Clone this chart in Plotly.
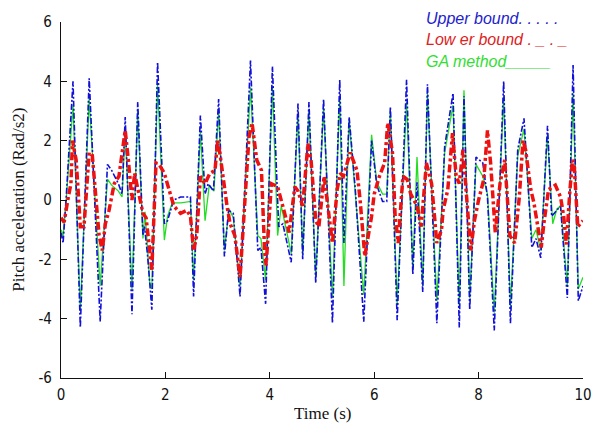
import plotly.graph_objects as go

# ---- data ----
t_upper = [0.00, 0.04, 0.10, 0.23, 0.37, 0.54, 0.75, 0.89, 0.97, 1.10, 1.17, 1.23, 1.36, 1.47, 1.57, 1.60,
           1.66, 1.74, 1.85, 1.98, 2.04, 2.16, 2.29, 2.48, 2.54, 2.67, 2.76, 2.82, 2.92, 3.02, 3.13, 3.21,
           3.30, 3.43, 3.63, 3.77, 3.83, 3.92, 4.05, 4.17, 4.25, 4.33, 4.41, 4.54, 4.63, 4.75, 4.88, 5.03,
           5.20, 5.34, 5.42, 5.52, 5.64, 5.80, 5.95, 6.05, 6.16, 6.24, 6.31, 6.44, 6.62, 6.74, 6.82, 6.93,
           7.02, 7.20, 7.35, 7.51, 7.63, 7.72, 7.83, 7.95, 8.08, 8.17, 8.30, 8.48, 8.61, 8.75, 8.87, 9.02,
           9.10, 9.19, 9.32, 9.40, 9.48, 9.57, 9.70, 9.81, 9.91, 10.0]
upper = [-1.1, -1.45, 0.1, 4.0, -4.3, 4.1, -4.1, 1.2, 1.0, 0.55, 0.2, 2.8, -3.85, 3.3, -1.2, -0.9,
         -1.9, -3.7, 4.65, -0.8, -0.7, 0.0, 0.1, 0.1, -3.25, 2.85, 0.2, 0.55, 0.3, 3.4, -1.9, -0.35,
         -0.45, -3.25, 4.7, -1.7, -1.6, -3.5, 4.5, -0.9, -0.8, -1.4, -2.1, 3.25, -2.0, 3.3, -2.8, 3.4,
         -4.15, 4.05, -1.45, 2.8, 0.3, -4.1, 2.0, 0.5, -0.05, -0.05, 3.15, -4.05, 4.05, -2.5, 0.6, -3.1,
         3.9, -4.15, 1.8, 3.6, -4.3, 3.5, -3.7, 1.45, 1.25, 0.1, -4.4, 4.0, -4.15, 1.7, 2.75, -1.6,
         -1.3, -1.95, 2.5, -0.55, -0.4, -0.2, -3.3, 4.55, -3.4, -2.9]

t_ga = [0.00, 0.04, 0.10, 0.23, 0.37, 0.54, 0.75, 0.89, 0.97, 1.10, 1.17, 1.23, 1.36, 1.47, 1.57, 1.61,
        1.70, 1.74, 1.85, 1.98, 2.04, 2.13, 2.30, 2.48, 2.54, 2.67, 2.76, 2.84, 2.93, 3.02, 3.13, 3.22,
        3.30, 3.43, 3.63, 3.77, 3.83, 3.92, 4.05, 4.15, 4.22, 4.30, 4.41, 4.54, 4.63, 4.75, 4.88, 5.03,
        5.20, 5.34, 5.42, 5.52, 5.64, 5.80, 5.95, 6.05, 6.16, 6.24, 6.31, 6.44, 6.62, 6.74, 6.82, 6.93,
        7.02, 7.20, 7.35, 7.51, 7.63, 7.72, 7.83, 7.95, 8.08, 8.17, 8.30, 8.48, 8.61, 8.75, 8.87, 9.02,
        9.10, 9.19, 9.32, 9.42, 9.50, 9.57, 9.70, 9.81, 9.91, 10.0]
ga = [-1.0, -1.2, 0.0, 3.2, -3.7, 3.4, -2.9, 0.7, 0.5, 0.3, 0.1, 2.4, -3.0, 3.0, -1.3, -0.4,
      -2.8, -3.0, 3.9, -1.35, -0.55, -0.1, -0.1, -0.05, -2.7, 2.3, -0.7, 0.5, 0.3, 3.0, -1.7, -0.3,
      -0.6, -2.9, 3.8, -1.2, -1.3, -2.7, 3.8, -1.2, -0.2, -0.9, -1.8, 2.9, -1.8, 3.0, -2.6, 3.1,
      -3.3, 3.5, -2.9, 2.7, 0.2, -3.2, 2.2, 0.6, 0.2, 0.2, 3.0, -3.5, 3.3, -2.3, 1.45, -2.9,
      3.6, -3.4, 1.6, 3.2, -3.6, 3.7, -3.3, 1.2, 0.8, 0.2, -3.8, 3.5, -3.6, 1.5, 2.4, -1.3,
      -1.0, -1.7, 2.2, -0.8, -0.3, -0.2, -2.9, 3.6, -3.0, -2.6]

t_lower = [0.00, 0.06, 0.13, 0.19, 0.22, 0.29, 0.32, 0.37, 0.44, 0.51, 0.54, 0.60, 0.66, 0.73, 0.79, 0.85,
           0.92, 1.02, 1.11, 1.20, 1.23, 1.29, 1.36, 1.41, 1.47, 1.57, 1.63, 1.70, 1.74, 1.82, 1.88, 1.98,
           2.07, 2.16, 2.29, 2.41, 2.48, 2.54, 2.60, 2.67, 2.76, 2.85, 2.95, 3.00, 3.05, 3.12, 3.18, 3.24,
           3.33, 3.43, 3.52, 3.60, 3.66, 3.75, 3.84, 3.90, 3.93, 4.03, 4.15, 4.25, 4.30, 4.37, 4.48, 4.54,
           4.63, 4.73, 4.79, 4.88, 4.94, 5.04, 5.10, 5.20, 5.29, 5.35, 5.41, 5.54, 5.67, 5.73, 5.82, 5.95,
           6.00, 6.10, 6.20, 6.26, 6.35, 6.40, 6.46, 6.55, 6.63, 6.70, 6.76, 6.82, 6.90, 7.00, 7.10, 7.20,
           7.29, 7.32, 7.41, 7.50, 7.57, 7.63, 7.70, 7.76, 7.85, 7.92, 8.00, 8.10, 8.17, 8.23, 8.32, 8.41,
           8.50, 8.60, 8.69, 8.78, 8.85, 8.90, 9.00, 9.06, 9.12, 9.20, 9.25, 9.34, 9.47, 9.57, 9.63, 9.68,
           9.75, 9.80, 9.83, 9.87, 9.90, 10.0]
lower = [-0.6, -0.75, 0.0, 0.55, 2.0, 1.35, 0.55, -0.9, -0.9, 0.8, 1.6, 1.5, 0.1, -1.2, -1.7, -0.8,
         -0.35, 0.55, 0.8, 2.0, 2.35, 1.35, 0.0, 0.9, 0.35, -0.45, -0.6, -1.7, -2.35, 1.25, 1.2, 0.9,
         0.35, -0.2, -0.45, -0.35, -0.55, -1.7, -1.2, 0.8, 0.55, 0.9, 1.0, 2.0, 1.5, 0.55, -0.2, -0.8,
         -1.2, -2.6, 0.0, 2.1, 2.6, 1.35, 1.0, -1.7, -2.2, 0.55, 0.45, -0.2, -0.55, -1.1, 0.45, 0.3,
         -0.2, 1.9, 1.35, -0.7, -0.9, 0.8, 0.0, -1.45, 0.35, 0.9, 0.8, 1.6, 1.0, 0.0, -1.9, -0.55,
         0.2, 0.8, 1.25, 2.6, 1.6, -0.5, -1.45, 0.8, 0.7, 0.2, 0.0, -0.2, -0.9, 1.25, 0.55, -1.45,
         -1.0, -0.35, 0.35, 2.25, 0.8, 0.55, 1.7, 0.35, -1.7, -0.7, 0.0, 0.7, 2.35, 1.25, -1.1, 0.55,
         1.35, -1.2, -1.45, 0.1, 2.0, 1.7, 0.35, -0.1, -0.7, -1.6, -0.8, 0.35, 0.5, 0.1, -0.55, -1.5,
         0.35, 1.35, 1.2, -0.2, -0.9, -0.7]

x_ticks = [0, 2, 4, 6, 8, 10]
y_ticks = [-6, -4, -2, 0, 2, 4, 6]
legend_texts = ["Upper bound. . . . .", "Low er bound . _ . _", "GA method_____"]

# ---- figure ----
fig = go.Figure()
fig.add_trace(go.Scatter(x=t_ga, y=ga, mode="lines", name="GA method",
                         line=dict(color="#22dd22", width=1.3)))
fig.add_trace(go.Scatter(x=t_upper, y=upper, mode="lines", name="Upper bound",
                         line=dict(color="#1010d8", width=1.6, dash="6px,2px,2px,2px")))
fig.add_trace(go.Scatter(x=t_lower, y=lower, mode="lines", name="Lower bound",
                         line=dict(color="#ee1111", width=3.5, dash="8px,3px,3px,3px")))

tick_font = dict(family="DejaVu Sans Condensed, Liberation Sans Narrow, Liberation Sans, Arial", size=15,
                 color="#111111")
fig.update_xaxes(range=[0, 10], tickvals=x_ticks, ticktext=[str(v) for v in x_ticks],
                 ticks="inside", ticklen=6, tickcolor="#111", showline=True, linecolor="#111",
                 linewidth=1.2, showgrid=False, zeroline=False, tickfont=tick_font, mirror=False,
                 ticklabeloverflow="allow", ticklabelstandoff=3)
fig.update_yaxes(range=[-6, 6], tickvals=y_ticks, ticktext=[str(v) for v in y_ticks],
                 ticks="inside", ticklen=6, tickcolor="#111", showline=True, linecolor="#111",
                 linewidth=1.2, showgrid=False, zeroline=False, tickfont=tick_font, mirror=False,
                 ticklabeloverflow="allow", ticklabelstandoff=5)

serif = "Liberation Serif, Times New Roman, serif"
annotations = [
    dict(text="Time (s)", x=0.5, y=-0.101, xref="paper", yref="paper", showarrow=False,
         xanchor="center", yanchor="middle", font=dict(family=serif, size=17, color="#111")),
    dict(text="Pitch acceleration (Rad/s2)", x=-0.083, y=0.5, xref="paper", yref="paper",
         showarrow=False, textangle=-90, xanchor="center", yanchor="middle",
         font=dict(family=serif, size=17, color="#111")),
]
legend_colors = ["#2222cc", "#dd2222", "#33dd33"]
legend_y = [1.011, 0.952, 0.890]
for txt, col, yy in zip(legend_texts, legend_colors, legend_y):
    annotations.append(dict(text="<i>" + txt + "</i>", x=0.695, y=yy, xref="paper", yref="paper",
                            showarrow=False, xanchor="left", yanchor="middle",
                            font=dict(family="Liberation Sans, Arial", size=16, color=col)))

fig.update_layout(width=600, height=432, margin=dict(l=61, r=8, t=22, b=54),
                  paper_bgcolor="white", plot_bgcolor="white", showlegend=False,
                  annotations=annotations)

fig.write_html("out.html", config={"displayModeBar": False},
               post_script="document.body.style.margin='0';")
